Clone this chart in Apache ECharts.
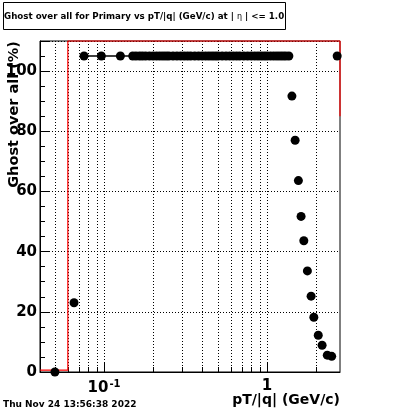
<!DOCTYPE html>
<html><head><meta charset="utf-8">
<script src="https://cdn.jsdelivr.net/npm/echarts@6/dist/echarts.min.js"></script>
<style>html,body{margin:0;padding:0;background:#fff}#c{width:400px;height:414px}</style>
</head><body><div id="c"></div>
<script>
// ---- data ----
const topRowX = [0.0754, 0.0963, 0.126, 0.150, 0.157, 0.165, 0.172, 0.180, 0.190, 0.200, 0.21, 0.22, 0.23, 0.24, 0.25, 0.265, 0.28, 0.295, 0.31, 0.325, 0.34, 0.36, 0.38, 0.40, 0.42, 0.44, 0.46, 0.48, 0.50, 0.53, 0.56, 0.59, 0.62, 0.65, 0.68, 0.72, 0.76, 0.80, 0.84, 0.88, 0.92, 0.96, 1.00, 1.05, 1.10, 1.15, 1.20, 1.25, 1.30, 1.36];
const topRowY = 105;
const loneX = [0.050, 0.0655, 2.69];
const loneY = [0, 23, 105];
const tailX = [1.42, 1.486, 1.556, 1.616, 1.68, 1.767, 1.862, 1.935, 2.06, 2.175, 2.34, 2.49];
const tailY = [91.7, 77, 63.6, 51.7, 43.6, 33.6, 25.2, 18.2, 12.2, 8.9, 5.6, 5.2];
const redX = [0.0406, 0.06, 0.06, 2.8, 2.8];
const redY = [0.6, 0.6, 110, 110, 85];
const xGridVals = [0.05, 0.06, 0.07, 0.08, 0.09, 0.1, 0.2, 0.3, 0.4, 0.5, 0.6, 0.7, 0.8, 0.9, 1, 2];
const yTicks = [0, 20, 40, 60, 80, 100];
const xMin = 0.0405, xMax = 2.8, yMin = 0, yMax = 110;
const titleText = 'Ghost over all for Primary vs pT/|q| (GeV/c) at | {e|η} | <= 1.0';
const xTitle = 'pT/|q| (GeV/c)';
const yTitle = 'Ghost over all (%)';
const dateText = 'Thu Nov 24 13:56:38 2022';

const F = 'DejaVu Sans';
const chart = echarts.init(document.getElementById('c'), null, {renderer: 'canvas'});
const isPow10 = v => Math.abs(Math.log10(v) - Math.round(Math.log10(v))) < 1e-6;

chart.setOption({
  animation: false,
  backgroundColor: '#fff',
  grid: {left: 40, right: 60, top: 41, bottom: 42, show: true, borderColor: '#000', borderWidth: 1},
  xAxis: {
    type: 'log', logBase: 10, min: xMin, max: xMax,
    axisLine: {lineStyle: {color: '#000', width: 1}},
    axisTick: {show: false}, splitLine: {show: false},
    axisLabel: {
      margin: 7, color: '#000', fontFamily: F, fontWeight: 'bold', fontSize: 15,
      showMinLabel: false, showMaxLabel: false,
      formatter: v => {
        if (!isPow10(v)) return '';
        const e = Math.round(Math.log10(v));
        if (e === 0) return '{b|1}';
        return '{b|10}{s|' + e + '}';
      },
      rich: {
        b: {fontFamily: F, fontWeight: 'bold', fontSize: 15, color: '#000'},
        s: {fontFamily: F, fontWeight: 'bold', fontSize: 10, color: '#000', verticalAlign: 'top', padding: [0, 0, 9, 1]}
      }
    }
  },
  yAxis: {
    type: 'value', min: yMin, max: yMax, interval: 20,
    axisLine: {lineStyle: {color: '#000', width: 1}},
    axisTick: {inside: true, length: 9, lineStyle: {color: '#000'}},
    minorTick: {show: true, splitNumber: 4, length: 5, lineStyle: {color: '#000'}},
    splitLine: {show: true, lineStyle: {color: '#000', width: 1, type: [1, 2]}},
    axisLabel: {
      margin: 3, color: '#000', fontFamily: F, fontWeight: 'bold', fontSize: 15,
      formatter: v => (yTicks.indexOf(v) >= 0 ? String(v) : '')
    }
  },
  series: [
    {
      type: 'custom', z: 1, silent: true,
      data: xGridVals.map(v => [v, 0]),
      encode: {x: 0, y: 1},
      renderItem: (params, api) => {
        const cs = params.coordSys;
        const v = api.value(0);
        const x = Math.round(api.coord([v, 0])[0]) + 0.5;
        const bot = cs.y + cs.height;
        const len = isPow10(v) ? 9 : 5;
        return {type: 'group', children: [
          {type: 'line', shape: {x1: x, y1: cs.y, x2: x, y2: bot}, style: {stroke: '#000', lineWidth: 1, lineDash: [1, 2]}},
          {type: 'line', shape: {x1: x, y1: bot - len, x2: x, y2: bot}, style: {stroke: '#000', lineWidth: 1}}
        ]};
      }
    },
    {
      type: 'line', z: 3, silent: true, clip: false, symbol: 'none', showSymbol: false,
      data: redX.map((x, i) => [x, redY[i]]),
      itemStyle: {color: '#ff0000'},
      lineStyle: {color: '#ff0000', width: 1.2}
    },
    {
      type: 'line', z: 5, silent: true, symbol: 'circle', symbolSize: 9,
      data: topRowX.map(x => [x, topRowY]),
      itemStyle: {color: '#000', opacity: 1}, lineStyle: {color: '#000', width: 1.5}
    },
    {
      type: 'scatter', z: 5, silent: true, symbol: 'circle', symbolSize: 9,
      data: loneX.map((x, i) => [x, loneY[i]]).concat(tailX.map((x, i) => [x, tailY[i]])),
      itemStyle: {color: '#000', opacity: 1}
    }
  ],
  graphic: [
    {type: 'rect', shape: {x: 3.5, y: 2.5, width: 282, height: 27}, style: {fill: '#fff', stroke: '#000', lineWidth: 1}, z: 10},
    {type: 'text', x: 4, y: 17, z: 11, style: {text: titleText, fill: '#000', font: 'bold 8.7px "DejaVu Sans"', verticalAlign: 'middle', align: 'left',
      rich: {e: {fontFamily: F, fontWeight: 'normal', fontSize: 8, fill: '#000'}}}},
    {type: 'text', x: 340, y: 400, z: 11, style: {text: xTitle, fill: '#000', font: 'bold 14px "DejaVu Sans"', align: 'right', verticalAlign: 'middle'}},
    {type: 'text', x: 14, y: 41, rotation: Math.PI / 2, z: 11, style: {text: yTitle, fill: '#000', font: 'bold 14.5px "DejaVu Sans"', align: 'right', verticalAlign: 'middle'}},
    {type: 'text', x: 3, y: 405, z: 11, style: {text: dateText, fill: '#000', font: 'bold 9px "DejaVu Sans"', align: 'left', verticalAlign: 'middle'}}
  ]
});
</script></body></html>
